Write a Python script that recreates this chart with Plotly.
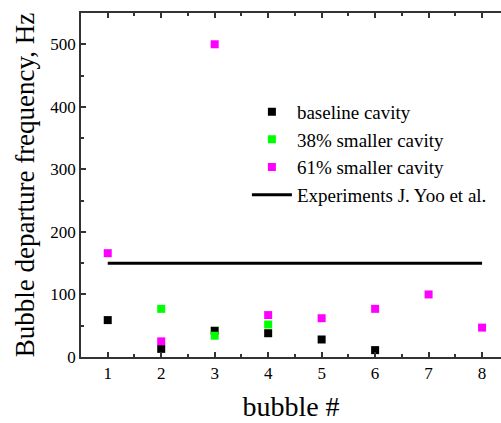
import plotly.graph_objects as go

bubble_baseline = [1, 2, 3, 4, 5, 6]
freq_baseline = [59, 13, 42, 38, 28, 11]
bubble_38 = [2, 3, 4]
freq_38 = [77, 34, 52]
bubble_61 = [1, 2, 3, 4, 5, 6, 7, 8]
freq_61 = [166, 25, 500, 67, 62, 77, 100, 47]
exp_x = [1, 8]
exp_y = [150, 150]

FONT = "Liberation Serif"
fig = go.Figure()
ms = 8
fig.add_trace(go.Scatter(x=bubble_baseline, y=freq_baseline, mode="markers", name="baseline cavity",
                         marker=dict(symbol="square", size=ms, color="black")))
fig.add_trace(go.Scatter(x=bubble_38, y=freq_38, mode="markers", name="38% smaller cavity",
                         marker=dict(symbol="square", size=ms, color="#00ff00")))
fig.add_trace(go.Scatter(x=bubble_61, y=freq_61, mode="markers", name="61% smaller cavity",
                         marker=dict(symbol="square", size=ms, color="#ff00ff")))
fig.add_trace(go.Scatter(x=exp_x, y=exp_y, mode="lines", name="Experiments J. Yoo et al.",
                         line=dict(color="black", width=3)))
fig.add_trace(go.Scatter(x=[None], y=[None], xaxis="x2", showlegend=False, hoverinfo="skip"))

axcol = "#333333"
fig.update_layout(
    width=501, height=423,
    margin=dict(l=81, r=0, t=13, b=66),
    paper_bgcolor="white", plot_bgcolor="white",
    font=dict(family=FONT, size=17, color="black"),
    showlegend=True,
    legend=dict(x=0.395, y=0.768, xanchor="left", yanchor="top", bgcolor="rgba(0,0,0,0)",
                font=dict(family=FONT, size=19), tracegroupgap=0, itemwidth=40),
    xaxis=dict(range=[0.5, 8.354], tickmode="array", tickvals=[1, 2, 3, 4, 5, 6, 7, 8],
               ticks="inside", ticklen=5, tickwidth=1.5, tickcolor=axcol,
               showline=True, linecolor=axcol, linewidth=1.5, showgrid=False, zeroline=False,
               minor=dict(ticks="inside", ticklen=3, dtick=0.5, tick0=0.5, tickcolor=axcol, tickwidth=1.5),
               tickfont=dict(size=17, family=FONT),
               title=dict(text="bubble #", font=dict(size=28, family=FONT), standoff=14)),
    xaxis2=dict(overlaying="x", side="top", matches="x", anchor="y", showticklabels=False,
                tickmode="array", tickvals=[1, 2, 3, 4, 5, 6, 7, 8],
                ticks="inside", ticklen=5, tickwidth=1.5, tickcolor=axcol,
                showline=True, linecolor=axcol, linewidth=1.5, showgrid=False, zeroline=False,
                minor=dict(ticks="inside", ticklen=3, dtick=0.5, tick0=0.5, tickcolor=axcol, tickwidth=1.5)),
    yaxis=dict(range=[0, 550], tickmode="array", tickvals=[0, 100, 200, 300, 400, 500],
               ticks="inside", ticklen=5, tickwidth=1.5, tickcolor=axcol,
               showline=True, linecolor=axcol, linewidth=1.5, showgrid=False, zeroline=False,
               minor=dict(ticks="inside", ticklen=3, dtick=50, tickcolor=axcol, tickwidth=1.5),
               tickfont=dict(size=17, family=FONT),
               title=dict(text="Bubble departure frequency, Hz", font=dict(size=27, family=FONT), standoff=8)),
)
fig.write_html("out.html")
